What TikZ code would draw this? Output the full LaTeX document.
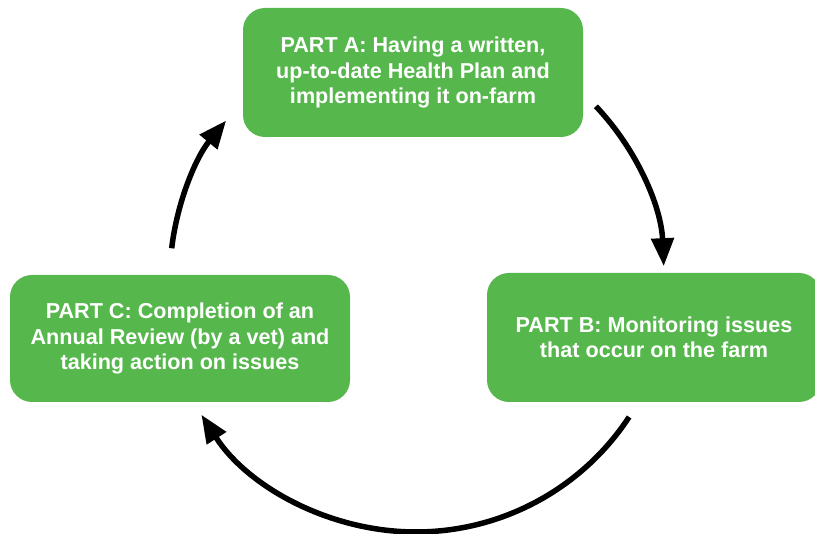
\documentclass[tikz,border=0pt]{standalone}
\usepackage{fontspec}
\setmainfont{Liberation Sans}
\usetikzlibrary{arrows.meta,calc}
\definecolor{partgreen}{RGB}{86,184,76}
\tikzset{
  partbox/.style={fill=partgreen, draw=none, rounded corners=22pt, text=white,
    align=center, font=\fontsize{21.6}{25.5}\selectfont\bfseries, inner sep=0pt},
  cyclearrow/.style={draw=black, line width=5.5pt, -{Triangle[length=28pt,width=22pt]}}
}
\begin{document}
\begin{tikzpicture}[x=1pt,y=1pt]
\useasboundingbox (0,0) rectangle (815,534);
\begin{scope}
\clip (0,0) rectangle (815,534);
\node[partbox, minimum width=340pt, minimum height=129pt] (A) at (413,461.5)
  {PART A: Having a written,\\up-to-date Health Plan and\\implementing it on-farm};
\node[partbox, minimum width=334pt, minimum height=129pt] (B) at (654,196.5)
  {PART B: Monitoring issues\\that occur on the farm};
\node[partbox, minimum width=340pt, minimum height=127pt] (C) at (180,195.5)
  {PART C: Completion of an\\Annual Review (by a vet) and\\taking action on issues};
\end{scope}
\coordinate (ctr) at (416,257);
\coordinate (ab) at ($(ctr)+(43.5:248)$);
\coordinate (bc) at ($(ctr)+(-33.3:255)$);
\coordinate (ca) at ($(ctr)+(173.3:246)$);
\draw[cyclearrow] (ab) arc[start angle=43.5, end angle=2.5, radius=248];
\draw[cyclearrow] (bc) arc[start angle=-33.3, end angle=-147.3, radius=255];
\draw[cyclearrow] (ca) arc[start angle=173.3, end angle=140.5, radius=246];
\end{tikzpicture}
\end{document}
